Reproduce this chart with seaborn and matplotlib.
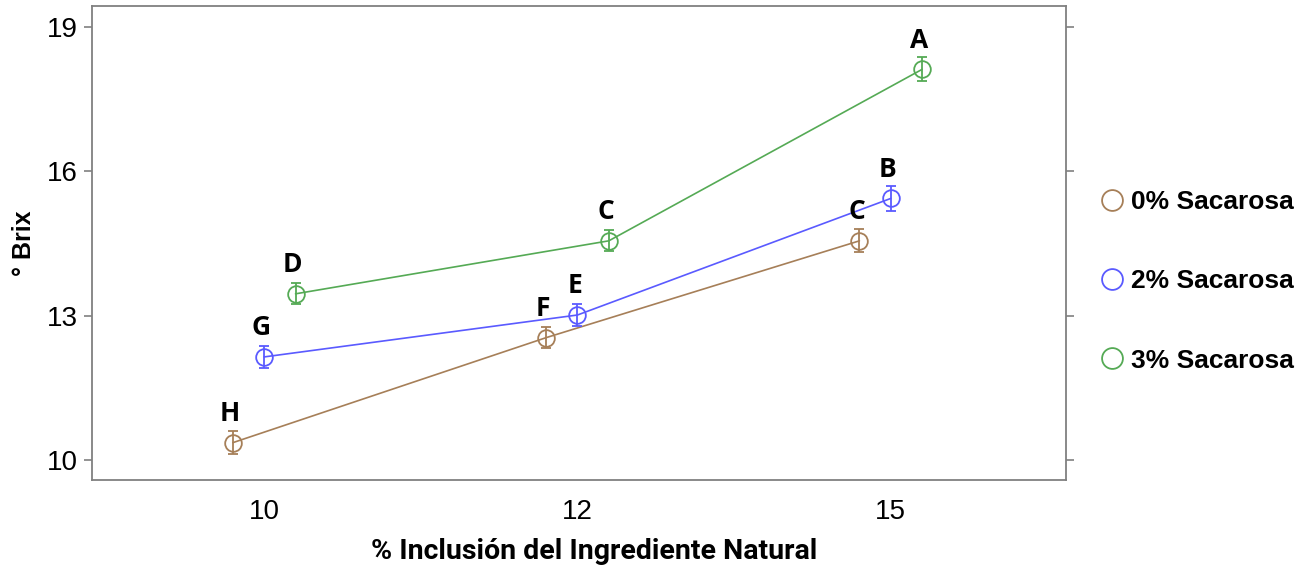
import matplotlib
matplotlib.use("Agg")
import matplotlib.pyplot as plt
from matplotlib.lines import Line2D
import seaborn as sns
import pandas as pd

# Data
inclusion = ["10", "12", "15"]
series_names = ["0% Sacarosa", "2% Sacarosa", "3% Sacarosa"]
brix_0 = [10.37, 12.55, 14.56]
brix_2 = [12.15, 13.02, 15.44]
brix_3 = [13.46, 14.56, 18.12]
err_0 = [0.24, 0.22, 0.24]
err_2 = [0.22, 0.22, 0.26]
err_3 = [0.22, 0.22, 0.25]
letters_0 = ["H", "F", "C"]
letters_2 = ["G", "E", "B"]
letters_3 = ["D", "C", "A"]
yticks = [10, 13, 16, 19]
colors = ["#a67f58", "#5a5aff", "#55aa55"]

values = [brix_0, brix_2, brix_3]
errors = [err_0, err_2, err_3]
letters = [letters_0, letters_2, letters_3]

rows = []
for name, vals in zip(series_names, values):
    for x, v in zip(inclusion, vals):
        rows.append({"inclusion": x, "brix": v, "sacarosa": name})
df = pd.DataFrame(rows)

sns.set_style("white")
plt.rcParams["font.family"] = ["Liberation Sans", "DejaVu Sans"]
plt.rcParams["text.color"] = "black"
plt.rcParams["axes.labelcolor"] = "black"
plt.rcParams["xtick.color"] = "black"
plt.rcParams["ytick.color"] = "black"

fig = plt.figure(figsize=(13.13, 5.71), dpi=100)
ax = fig.add_axes([0.070, 0.159, 0.742, 0.830])

sns.pointplot(data=df, x="inclusion", y="brix", hue="sacarosa", order=inclusion,
              hue_order=series_names, palette=colors, dodge=0.2, errorbar=None,
              markers="o", markersize=12, linewidth=1.2, ax=ax, legend=False)

lines = [l for l in ax.lines if len(l.get_xdata()) == len(inclusion)]
for line, errs, labs, col in zip(lines, errors, letters, colors):
    line.set_markerfacecolor("none")
    line.set_markeredgecolor(col)
    line.set_markeredgewidth(1.3)
    xs = line.get_xdata()
    ys = line.get_ydata()
    ax.errorbar(xs, ys, yerr=errs, fmt="none", ecolor=col, elinewidth=1.3,
                capsize=3.5, capthick=1.3, zorder=3)
    for x, y, lab in zip(xs, ys, labs):
        ax.annotate(lab, (x, y), xytext=(-2, 21), textcoords="offset points",
                    ha="center", va="center", fontsize=19, fontweight="bold",
                    family=["Open Sans", "DejaVu Sans"], color="black")

ax.set_xlim(-0.55, 2.56)
ax.set_ylim(9.59, 19.43)
ax.set_yticks(yticks)
ax.set_yticklabels([str(t) for t in yticks])
ax.tick_params(axis="y", which="both", left=True, right=True, direction="out",
               length=6, width=1.2, color="#808080", labelcolor="black",
               labelsize=20, pad=4)
ax.tick_params(axis="x", bottom=False, labelsize=20, labelcolor="black", pad=10)
for sp in ax.spines.values():
    sp.set_visible(True)
    sp.set_color("#808080")
    sp.set_linewidth(1.3)

ax.set_xlabel("% Inclusión del Ingrediente Natural", fontsize=20.5, fontweight="bold",
              family=["Roboto", "Liberation Sans"], color="black")
ax.xaxis.set_label_coords(0.516, -0.122)
ax.set_ylabel("° Brix", fontsize=18, fontweight="bold", labelpad=8, color="black")

handles = [Line2D([], [], linestyle="none", marker="o", markersize=15,
                  markerfacecolor="none", markeredgecolor=c, markeredgewidth=1.3)
           for c in colors]
leg = ax.legend(handles, series_names, loc="center left", bbox_to_anchor=(1.02, 0.42),
                frameon=False, prop={"size": 19, "weight": "bold"},
                labelspacing=2.1, handletextpad=0.1, handlelength=1.2, borderaxespad=0)
for t in leg.get_texts():
    t.set_color("black")

fig.savefig("out.png", dpi=100)
